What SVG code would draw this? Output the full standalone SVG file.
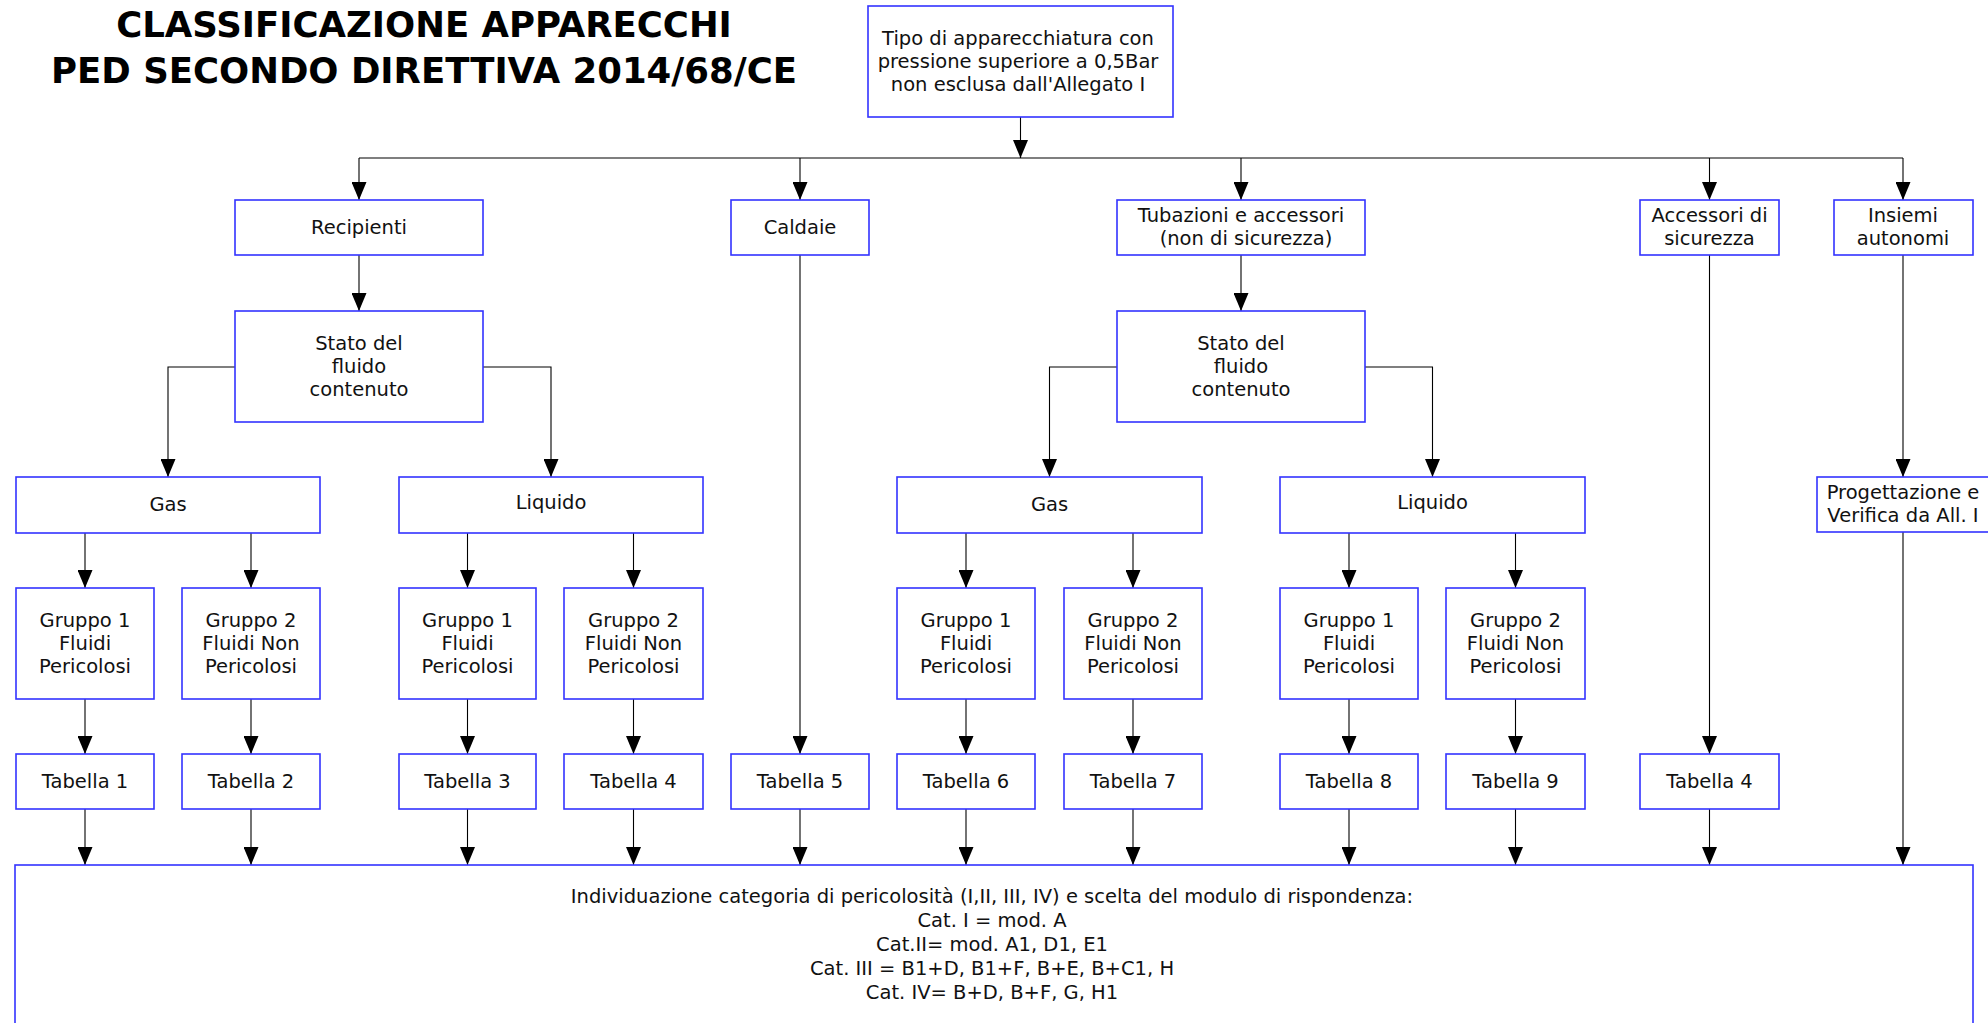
<svg xmlns="http://www.w3.org/2000/svg" width="1988" height="1023" viewBox="0 0 1988 1023">
<defs>
<style>
.box{fill:#fff;stroke:#3333ff;stroke-width:1.6}
.t{font-family:"DejaVu Sans","Verdana",sans-serif;font-size:19.5px;fill:#111;text-anchor:middle}
.title{font-family:"DejaVu Sans","Verdana",sans-serif;font-size:35.5px;font-weight:bold;fill:#000;text-anchor:middle}
.c{fill:none;stroke:#000;stroke-width:1.1}
.a{fill:none;stroke:#000;stroke-width:1.1;marker-end:url(#arr)}
</style>
<marker id="arr" viewBox="-18 -7.5 18 15" markerWidth="18" markerHeight="15" refX="0" refY="0" orient="auto" markerUnits="userSpaceOnUse">
<path d="M0,0 L-18,-7.5 L-18,7.5 Z" fill="#000"/>
</marker>
</defs>
<rect width="1988" height="1023" fill="#fff"/>
<g id="title">
<text class="title" x="424" y="37">CLASSIFICAZIONE APPARECCHI</text>
<text class="title" x="424" y="83">PED SECONDO DIRETTIVA 2014/68/CE</text>
</g>
<g id="connectors">
<path class="c" d="M1020.5,117 V158"/>
<path class="a" d="M1020.5,140 V158"/>
<path class="c" d="M359,158 H1903"/>
<path class="a" d="M359,158 V200"/>
<path class="a" d="M800,158 V200"/>
<path class="a" d="M1241,158 V200"/>
<path class="a" d="M1709.5,158 V200"/>
<path class="a" d="M1903,158 V200"/>
<path class="a" d="M359,255 V311"/>
<path class="a" d="M1241,255 V311"/>
<path class="a" d="M235,367 H168 V477"/>
<path class="a" d="M483,367 H551 V477"/>
<path class="a" d="M1117,367 H1049.5 V477"/>
<path class="a" d="M1365,367 H1432.5 V477"/>
<path class="a" d="M85,533 V588"/>
<path class="a" d="M251,533 V588"/>
<path class="a" d="M467.5,533 V588"/>
<path class="a" d="M633.5,533 V588"/>
<path class="a" d="M966,533 V588"/>
<path class="a" d="M1133,533 V588"/>
<path class="a" d="M1349,533 V588"/>
<path class="a" d="M1515.5,533 V588"/>
<path class="a" d="M85,699 V754"/>
<path class="a" d="M251,699 V754"/>
<path class="a" d="M467.5,699 V754"/>
<path class="a" d="M633.5,699 V754"/>
<path class="a" d="M966,699 V754"/>
<path class="a" d="M1133,699 V754"/>
<path class="a" d="M1349,699 V754"/>
<path class="a" d="M1515.5,699 V754"/>
<path class="a" d="M800,255 V754"/>
<path class="a" d="M1709.5,255 V754"/>
<path class="a" d="M1903,255 V477"/>
<path class="a" d="M85,809 V865"/>
<path class="a" d="M251,809 V865"/>
<path class="a" d="M467.5,809 V865"/>
<path class="a" d="M633.5,809 V865"/>
<path class="a" d="M800,809 V865"/>
<path class="a" d="M966,809 V865"/>
<path class="a" d="M1133,809 V865"/>
<path class="a" d="M1349,809 V865"/>
<path class="a" d="M1515.5,809 V865"/>
<path class="a" d="M1709.5,809 V865"/>
<path class="a" d="M1903,532 V865"/>
</g>
<g id="n-tipo"><rect class="box" x="868" y="6" width="305" height="111"/>
<text class="t" x="1018" y="44.5">Tipo di apparecchiatura con</text>
<text class="t" x="1018" y="67.5">pressione superiore a 0,5Bar</text>
<text class="t" x="1018" y="90.5">non esclusa dall'Allegato I</text></g>
<g id="n-recipienti"><rect class="box" x="235" y="200" width="248" height="55"/><text class="t" x="359" y="234">Recipienti</text></g>
<g id="n-caldaie"><rect class="box" x="731" y="200" width="138" height="55"/><text class="t" x="800" y="234">Caldaie</text></g>
<g id="n-tubazioni"><rect class="box" x="1117" y="200" width="248" height="55"/><text class="t" x="1241" y="222">Tubazioni e accessori</text><text class="t" x="1246" y="245">(non di sicurezza)</text></g>
<g id="n-accessori"><rect class="box" x="1640" y="200" width="139" height="55"/><text class="t" x="1709.5" y="222">Accessori di</text><text class="t" x="1709.5" y="245">sicurezza</text></g>
<g id="n-insiemi"><rect class="box" x="1834" y="200" width="139" height="55"/><text class="t" x="1903" y="222">Insiemi</text><text class="t" x="1903" y="245">autonomi</text></g>
<g id="n-stato1"><rect class="box" x="235" y="311" width="248" height="111"/><text class="t" x="359" y="350">Stato del</text><text class="t" x="359" y="373">fluido</text><text class="t" x="359" y="396">contenuto</text></g>
<g id="n-stato2"><rect class="box" x="1117" y="311" width="248" height="111"/><text class="t" x="1241" y="350">Stato del</text><text class="t" x="1241" y="373">fluido</text><text class="t" x="1241" y="396">contenuto</text></g>
<g id="n-gas1"><rect class="box" x="16" y="477" width="304" height="56"/><text class="t" x="168" y="511">Gas</text></g>
<g id="n-liquido1"><rect class="box" x="399" y="477" width="304" height="56"/><text class="t" x="551" y="509">Liquido</text></g>
<g id="n-gas2"><rect class="box" x="897" y="477" width="305" height="56"/><text class="t" x="1049.5" y="511">Gas</text></g>
<g id="n-liquido2"><rect class="box" x="1280" y="477" width="305" height="56"/><text class="t" x="1432.5" y="509">Liquido</text></g>
<g id="n-progettazione"><rect class="box" x="1817" y="477" width="172" height="55"/><text class="t" x="1903" y="499">Progettazione e</text><text class="t" x="1903" y="522">Verifica da All. I</text></g>
<g id="n-g1a"><rect class="box" x="16" y="588" width="138" height="111"/><text class="t" x="85" y="627">Gruppo 1</text><text class="t" x="85" y="650">Fluidi</text><text class="t" x="85" y="673">Pericolosi</text></g>
<g id="n-g2a"><rect class="box" x="182" y="588" width="138" height="111"/><text class="t" x="251" y="627">Gruppo 2</text><text class="t" x="251" y="650">Fluidi Non</text><text class="t" x="251" y="673">Pericolosi</text></g>
<g id="n-g1b"><rect class="box" x="399" y="588" width="137" height="111"/><text class="t" x="467.5" y="627">Gruppo 1</text><text class="t" x="467.5" y="650">Fluidi</text><text class="t" x="467.5" y="673">Pericolosi</text></g>
<g id="n-g2b"><rect class="box" x="564" y="588" width="139" height="111"/><text class="t" x="633.5" y="627">Gruppo 2</text><text class="t" x="633.5" y="650">Fluidi Non</text><text class="t" x="633.5" y="673">Pericolosi</text></g>
<g id="n-g1c"><rect class="box" x="897" y="588" width="138" height="111"/><text class="t" x="966" y="627">Gruppo 1</text><text class="t" x="966" y="650">Fluidi</text><text class="t" x="966" y="673">Pericolosi</text></g>
<g id="n-g2c"><rect class="box" x="1064" y="588" width="138" height="111"/><text class="t" x="1133" y="627">Gruppo 2</text><text class="t" x="1133" y="650">Fluidi Non</text><text class="t" x="1133" y="673">Pericolosi</text></g>
<g id="n-g1d"><rect class="box" x="1280" y="588" width="138" height="111"/><text class="t" x="1349" y="627">Gruppo 1</text><text class="t" x="1349" y="650">Fluidi</text><text class="t" x="1349" y="673">Pericolosi</text></g>
<g id="n-g2d"><rect class="box" x="1446" y="588" width="139" height="111"/><text class="t" x="1515.5" y="627">Gruppo 2</text><text class="t" x="1515.5" y="650">Fluidi Non</text><text class="t" x="1515.5" y="673">Pericolosi</text></g>
<g id="n-tab1"><rect class="box" x="16" y="754" width="138" height="55"/><text class="t" x="85" y="788">Tabella 1</text></g>
<g id="n-tab2"><rect class="box" x="182" y="754" width="138" height="55"/><text class="t" x="251" y="788">Tabella 2</text></g>
<g id="n-tab3"><rect class="box" x="399" y="754" width="137" height="55"/><text class="t" x="467.5" y="788">Tabella 3</text></g>
<g id="n-tab4a"><rect class="box" x="564" y="754" width="139" height="55"/><text class="t" x="633.5" y="788">Tabella 4</text></g>
<g id="n-tab5"><rect class="box" x="731" y="754" width="138" height="55"/><text class="t" x="800" y="788">Tabella 5</text></g>
<g id="n-tab6"><rect class="box" x="897" y="754" width="138" height="55"/><text class="t" x="966" y="788">Tabella 6</text></g>
<g id="n-tab7"><rect class="box" x="1064" y="754" width="138" height="55"/><text class="t" x="1133" y="788">Tabella 7</text></g>
<g id="n-tab8"><rect class="box" x="1280" y="754" width="138" height="55"/><text class="t" x="1349" y="788">Tabella 8</text></g>
<g id="n-tab9"><rect class="box" x="1446" y="754" width="139" height="55"/><text class="t" x="1515.5" y="788">Tabella 9</text></g>
<g id="n-tab4b"><rect class="box" x="1640" y="754" width="139" height="55"/><text class="t" x="1709.5" y="788">Tabella 4</text></g>
<g id="n-categoria"><rect class="box" x="15" y="865" width="1958" height="170"/>
<text class="t" x="992" y="903">Individuazione categoria di pericolosità (I,II, III, IV) e scelta del modulo di rispondenza:</text>
<text class="t" x="992" y="927">Cat. I = mod. A</text>
<text class="t" x="992" y="951">Cat.II= mod. A1, D1, E1</text>
<text class="t" x="992" y="975">Cat. III = B1+D, B1+F, B+E, B+C1, H</text>
<text class="t" x="992" y="999">Cat. IV= B+D, B+F, G, H1</text></g>
</svg>
